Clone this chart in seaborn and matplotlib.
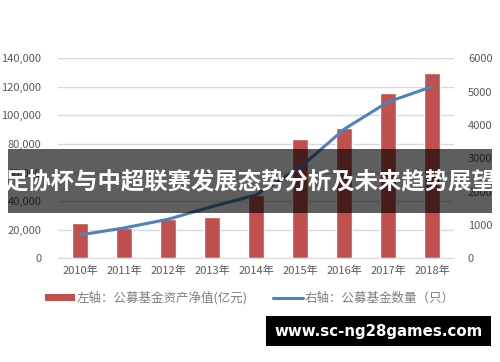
import matplotlib
matplotlib.use("Agg")
import matplotlib.pyplot as plt
import numpy as np
import pandas as pd
import seaborn as sns
from matplotlib.patches import Patch, Rectangle
from matplotlib.lines import Line2D
from matplotlib.ticker import FuncFormatter

# Chart data
years = ["2010年", "2011年", "2012年", "2013年", "2014年", "2015年", "2016年", "2017年", "2018年"]
net_assets = [24500, 21500, 27500, 29000, 44500, 83500, 91000, 115500, 129500]   # left axis, 亿元
fund_count = [700, 910, 1170, 1550, 1900, 2720, 3870, 4690, 5150]                # right axis, 只
left_ticks = [0, 20000, 40000, 60000, 80000, 100000, 120000, 140000]
right_ticks = [0, 1000, 2000, 3000, 4000, 5000, 6000]
legend_labels = ["左轴：公募基金资产净值(亿元)", "右轴：公募基金数量（只）"]
banner_title = "足协杯与中超联赛发展态势分析及未来趋势展望"
watermark = "www.sc-ng28games.com"

sns.set_style("white")
plt.rcParams["font.family"] = ["Noto Sans CJK SC", "DejaVu Sans"]

bar_color = "#C0504D"
line_color = "#4F81BD"
label_gray = "#595959"

df = pd.DataFrame({"year": years, "assets": net_assets, "count": fund_count})

fig = plt.figure(figsize=(5, 3.62), dpi=100)
ax = fig.add_axes([0.116, 0.2865, 0.792, 0.5525])

# bars on left axis
sns.barplot(data=df, x="year", y="assets", color=bar_color, width=0.35,
            saturation=1, ax=ax, zorder=2)
ax.set_ylim(0, 140000)
ax.set_xlim(-0.5, len(years) - 0.5)
ax.set_yticks(left_ticks)
ax.yaxis.set_major_formatter(FuncFormatter(lambda v, p: f"{int(v):,}"))
ax.yaxis.grid(True, color="#D9D9D9", linewidth=1)
ax.set_axisbelow(True)
ax.set(xlabel="", ylabel="")
for s in ["top", "right", "left"]:
    ax.spines[s].set_visible(False)
ax.spines["bottom"].set_color("#D9D9D9")
ax.tick_params(axis="y", length=0, pad=12, labelsize=8, labelcolor=label_gray)
ax.tick_params(axis="x", length=0, pad=5, labelsize=8, labelcolor=label_gray)

# line on right axis
ax2 = ax.twinx()
sns.lineplot(x=np.arange(len(years)), y=df["count"], color=line_color,
             linewidth=2.2, ax=ax2, solid_capstyle="round", solid_joinstyle="round")
ax2.set_ylim(0, 6000)
ax2.set_yticks(right_ticks)
ax2.set(xlabel="", ylabel="")
for s in ax2.spines.values():
    s.set_visible(False)
ax2.tick_params(axis="y", length=0, pad=10, labelsize=8, labelcolor=label_gray)
ax.set_xlim(-0.5, len(years) - 0.5)

# legend below the plot
handles = [Patch(facecolor=bar_color, edgecolor="none"),
           Line2D([0], [0], color=line_color, linewidth=2.2)]
fig.legend(handles, legend_labels, loc="center", bbox_to_anchor=(0.5, 0.177),
           ncol=2, frameon=False, fontsize=9, labelcolor="#7F7F7F",
           handlelength=2.4, handleheight=0.45, columnspacing=2.0, handletextpad=0.15)

# dark banner with title
fig.patches.append(Rectangle((0.016, 0.4116), 0.968, 0.1768, transform=fig.transFigure,
                             facecolor="black", alpha=0.63, edgecolor="none", zorder=5))
fig.text(0.5, 0.5, banner_title, color="white", fontsize=16.8, fontweight="bold",
         ha="center", va="center", zorder=6)

# watermark box
fig.patches.append(Rectangle((0.532, 0.044), 0.45, 0.083, transform=fig.transFigure,
                             facecolor="black", edgecolor="none", zorder=5))
fig.text(0.757, 0.0855, watermark, color="white", fontsize=10.8, fontweight="bold",
         family="DejaVu Sans", ha="center", va="center", zorder=6)

fig.savefig("out.png", dpi=100)
